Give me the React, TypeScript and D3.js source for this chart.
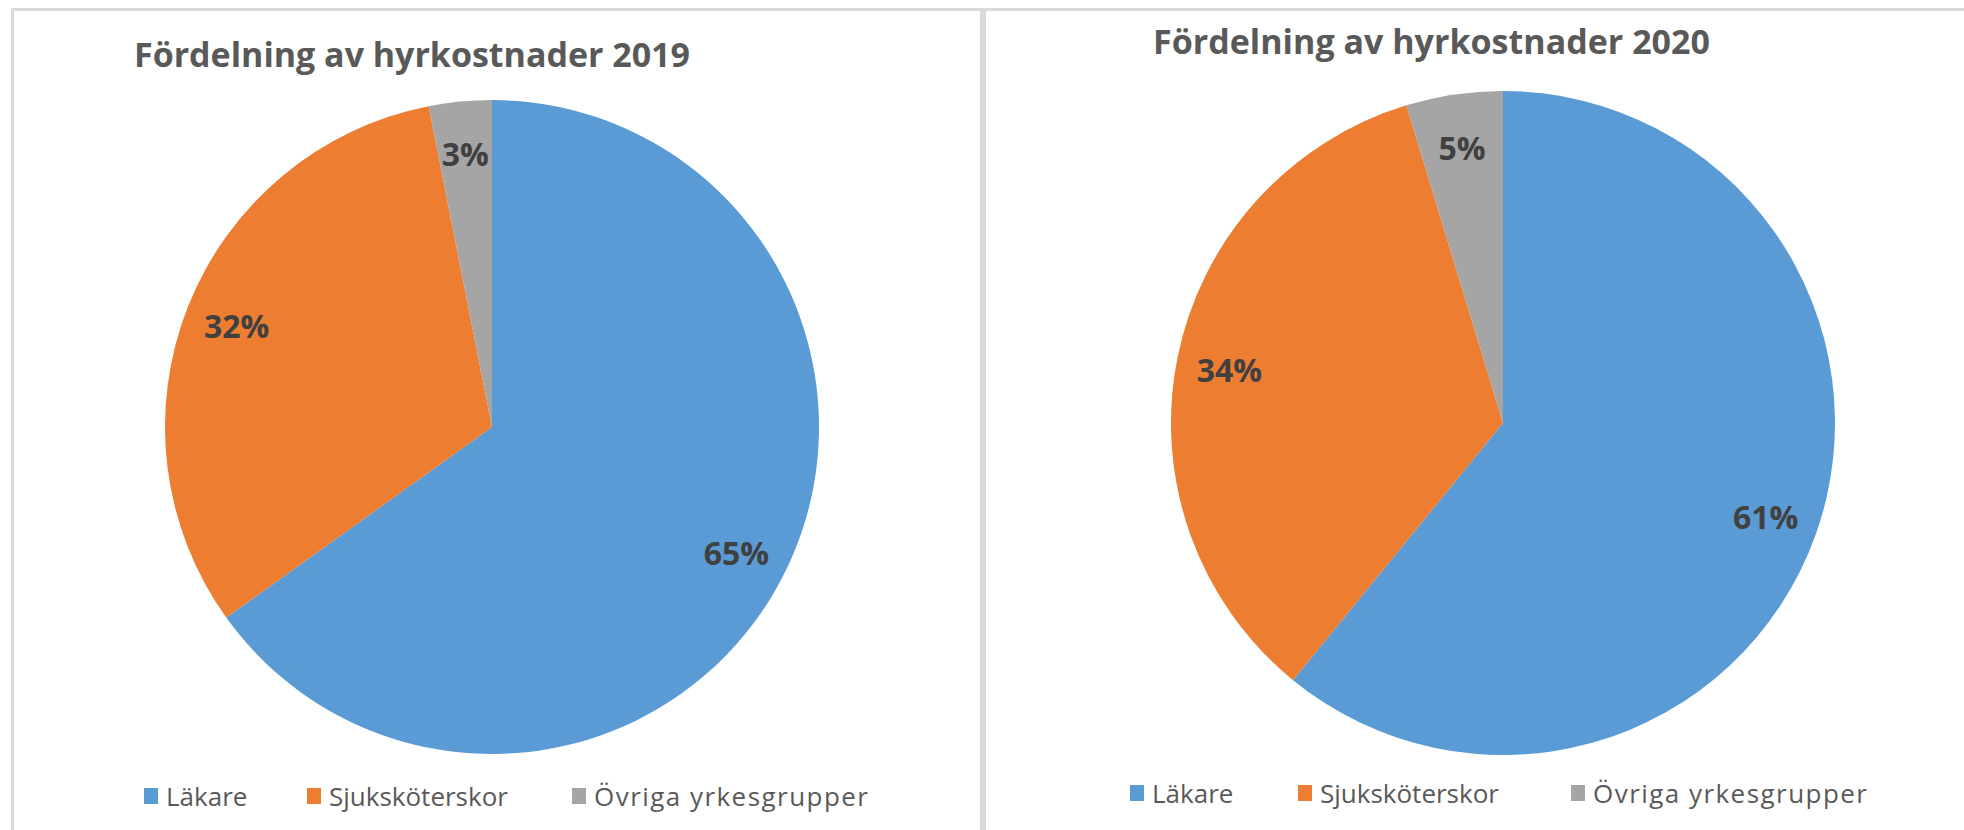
import React from 'react';
import * as d3 from 'd3';

const categories = ['Läkare', 'Sjuksköterskor', 'Övriga yrkesgrupper'];
const sliceColors = ['#5B9BD5', '#ED7D31', '#A5A5A5'];
const values2019 = [65.1, 31.8, 3.1];
const values2020 = [60.9, 34.4, 4.7];
const titles = ['Fördelning av hyrkostnader 2019', 'Fördelning av hyrkostnader 2020'];

const W = 1964;
const H = 830;

// legend text widths (layout); undefined = natural width
const legendTextLens: (number | undefined)[] = [undefined, undefined, 274];

type Panel = {
  values: number[];
  title: string;
  cx: number;
  cy: number;
  r: number;
  titleX: number;
  titleY: number;
  titleLen: number;
  legendXs: number[];
  legendY: number;
};

const panels: Panel[] = [
  {
    values: values2019,
    title: titles[0],
    cx: 492,
    cy: 427,
    r: 327,
    titleX: 134,
    titleY: 67,
    titleLen: 556,
    legendXs: [144, 307, 572],
    legendY: 788,
  },
  {
    values: values2020,
    title: titles[1],
    cx: 1503,
    cy: 423,
    r: 332,
    titleX: 1153,
    titleY: 54,
    titleLen: 557,
    legendXs: [1130, 1298, 1571],
    legendY: 785,
  },
];

const FONT = "'Open Sans', 'Noto Sans', sans-serif";

function PiePanel({ p }: { p: Panel }) {
  const pie = d3.pie<number>().sort(null).value((d) => d);
  const arcs = pie(p.values);
  const arc = d3.arc<d3.PieArcDatum<number>>().innerRadius(0).outerRadius(p.r);
  const labelArc = d3
    .arc<d3.PieArcDatum<number>>()
    .innerRadius(p.r * 0.84)
    .outerRadius(p.r * 0.84);
  return (
    <g>
      <text
        x={p.titleX}
        y={p.titleY}
        fontFamily={FONT}
        fontWeight={700}
        fontSize={34}
        fill="#595959"
        textLength={p.titleLen}
        lengthAdjust="spacing"
      >
        {p.title}
      </text>
      <g transform={`translate(${p.cx},${p.cy})`}>
        {arcs.map((a, i) => (
          <path key={i} d={arc(a) || ''} fill={sliceColors[i]} />
        ))}
        {arcs.map((a, i) => {
          const [x, y] = labelArc.centroid(a);
          return (
            <text
              key={'l' + i}
              x={x}
              y={y}
              textAnchor="middle"
              dominantBaseline="central"
              fontFamily={FONT}
              fontWeight={700}
              fontSize={32}
              fill="#404040"
            >
              {`${Math.round(a.data)}%`}
            </text>
          );
        })}
      </g>
      {categories.map((c, i) => (
        <g key={'lg' + i} transform={`translate(${p.legendXs[i]},${p.legendY})`}>
          <rect x={0} y={0} width={14} height={16} fill={sliceColors[i]} />
          <text
            x={22}
            y={18}
            fontFamily={FONT}
            fontSize={26}
            fill="#595959"
            textLength={legendTextLens[i]}
            lengthAdjust={legendTextLens[i] ? 'spacing' : undefined}
          >
            {c}
          </text>
        </g>
      ))}
    </g>
  );
}

export default function App() {
  return (
    <svg
      width={W}
      height={H}
      style={{ position: 'absolute', left: 0, top: 0, display: 'block', background: '#ffffff' }}
    >
      <rect x={0} y={0} width={W} height={H} fill="#ffffff" />
      {/* panel borders */}
      <rect x={11} y={8} width={W - 11} height={3} fill="#d9d9d9" />
      <rect x={11} y={8} width={3} height={H - 8} fill="#d9d9d9" />
      <rect x={980} y={8} width={6} height={H - 8} fill="#d9d9d9" />
      {panels.map((p, i) => (
        <PiePanel key={i} p={p} />
      ))}
    </svg>
  );
}
